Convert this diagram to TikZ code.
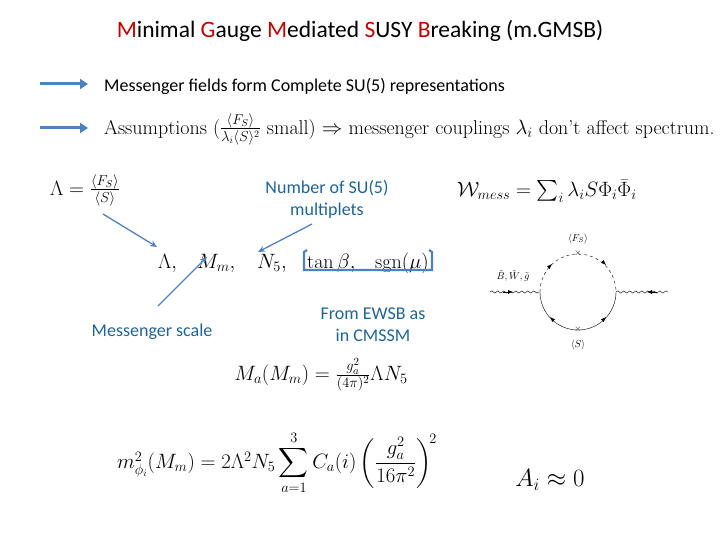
\documentclass[tikz,border=0pt]{standalone}
\usepackage{amsmath}
\usepackage{fontspec}
\newfontfamily\carl{Carlito}
\usetikzlibrary{decorations.pathmorphing,arrows.meta}
\definecolor{ab}{RGB}{79,129,189}
\definecolor{tb}{RGB}{31,100,150}
\definecolor{rd}{RGB}{192,0,0}
\begin{document}
\begin{tikzpicture}[x=1pt,y=-1pt,
  bigarrow/.style={ab,line width=3pt,-{Triangle[length=8pt,width=10pt]}},
  thinarrow/.style={ab,line width=1.3pt,-{Stealth[length=7pt,width=6pt]}},
  ctext/.style={font=\carl\fontsize{18}{20}\selectfont,inner sep=0},
  bluetext/.style={font=\carl\fontsize{18}{22}\selectfont,text=tb,align=center,inner sep=0},
  mtext/.style={font=\fontsize{20}{24}\selectfont,inner sep=0},
  ptext/.style={font=\fontsize{20}{24}\selectfont,inner sep=0,anchor=base west},
  flabel/.style={font=\normalsize,inner sep=0},
  farrow/.style={-{Latex[length=5pt]}},
  wavy/.style={decorate,decoration={snake,amplitude=1.2pt,segment length=6pt}}]
\useasboundingbox (0,0) rectangle (720,540);
\node[font=\carl\fontsize{23.5}{26}\selectfont,inner sep=0] (title) at (360,31)
 {\textcolor{rd}{M}inimal \textcolor{rd}{G}auge \textcolor{rd}{M}ediated \textcolor{rd}{S}USY \textcolor{rd}{B}reaking (m.GMSB)};
\coordinate (a1s) at (40,84); \coordinate (a1e) at (88,84);
\draw[bigarrow] (a1s) -- (a1e);
\node[ctext,anchor=west] (t1) at (104,86) {Messenger fields form Complete SU(5) representations};
\coordinate (a2s) at (40,128); \coordinate (a2e) at (88,128);
\draw[bigarrow] (a2s) -- (a2e);
\node[mtext,anchor=west] (t2) at (104,129) {Assumptions ($\frac{\langle F_S\rangle}{\lambda_i\langle S\rangle^2}$ small) $\Rightarrow$ messenger couplings $\lambda_i$ don't affect spectrum.};
\node[mtext,anchor=west] (lam) at (50,190) {$\Lambda=\frac{\langle F_S\rangle}{\langle S\rangle}$};
\node[bluetext] (nsu) at (327,199) {Number of SU(5)\\multiplets};
\node[mtext,anchor=west] (wm) at (457,191) {$\mathcal{W}_{mess}=\sum_i\lambda_i S\Phi_i\bar\Phi_i$};
\node[ptext] (p1) at (158,268) {$\Lambda,$};
\node[ptext] (p2) at (197,268) {$M_m,$};
\node[ptext] (p3) at (257,268) {$N_5,$};
\node[ptext] (p4) at (307,268) {$\tan\beta,$};
\node[ptext] (p5) at (375,268) {$\mathrm{sgn}(\mu)$};
\coordinate (lamN) at (157,247);
\coordinate (mmN) at (207,257);
\coordinate (n5N) at (258,252);
\node[bluetext] (ms) at (152,332) {Messenger scale};
\node[bluetext] (ewsb) at (373,325) {From EWSB as\\in CMSSM};
\draw[thinarrow] (103,214) -- (lamN);
\draw[thinarrow] (158,306) -- (mmN);
\draw[thinarrow] (312,224) -- (n5N);
\draw[ab,line width=2.2pt] (307,250) -- (304,252) -- (304,270) -- (432,270) -- (432,252) -- (429,250);
% Feynman diagram
\coordinate (c) at (578,291);
\coordinate (L) at (540,292); \coordinate (R) at (616,292);
\coordinate (Le) at (490,292); \coordinate (Re) at (668,292);
\draw[wavy] (Le) -- (L);
\draw[wavy] (R) -- (Re);
\draw[farrow] (503,292) -- (513,292);
\draw[farrow] (657,292) -- (647,292);
\draw[dashed] (L) arc[start angle=180,end angle=360,radius=38];
\draw (L) arc[start angle=180,end angle=0,radius=38];
\draw[farrow] (550,266) -- (552,264);
\draw[farrow] (604,263) -- (606,265);
\draw[farrow] (552,319) -- (550,317);
\draw[farrow] (604,319) -- (606,317);
\node[font=\small] (x1) at (578,253) {$\times$};
\node[font=\small] (x2) at (578,329) {$\times$};
\node[flabel] (fs) at (578,239) {$\langle F_S\rangle$};
\node[flabel] (s) at (578,345) {$\langle S\rangle$};
\node[flabel] (bwg) at (513,276) {$\tilde B,\tilde W,\tilde g$};
\node[font=\fontsize{21}{25}\selectfont,inner sep=0] (ma) at (321,375) {$M_a(M_m)=\frac{g_a^2}{(4\pi)^2}\Lambda N_5$};
\node[font=\fontsize{20}{24}\selectfont,inner sep=0] (m2) at (277,463) {$m^2_{\phi_i}(M_m)=2\Lambda^2N_5\displaystyle\sum_{a=1}^{3}C_a(i)\left(\frac{g_a^2}{16\pi^2}\right)^{\!2}$};
\node[font=\fontsize{27}{30}\selectfont,inner sep=0] (ai) at (550,480) {$A_i\approx 0$};
\end{tikzpicture}
\end{document}
